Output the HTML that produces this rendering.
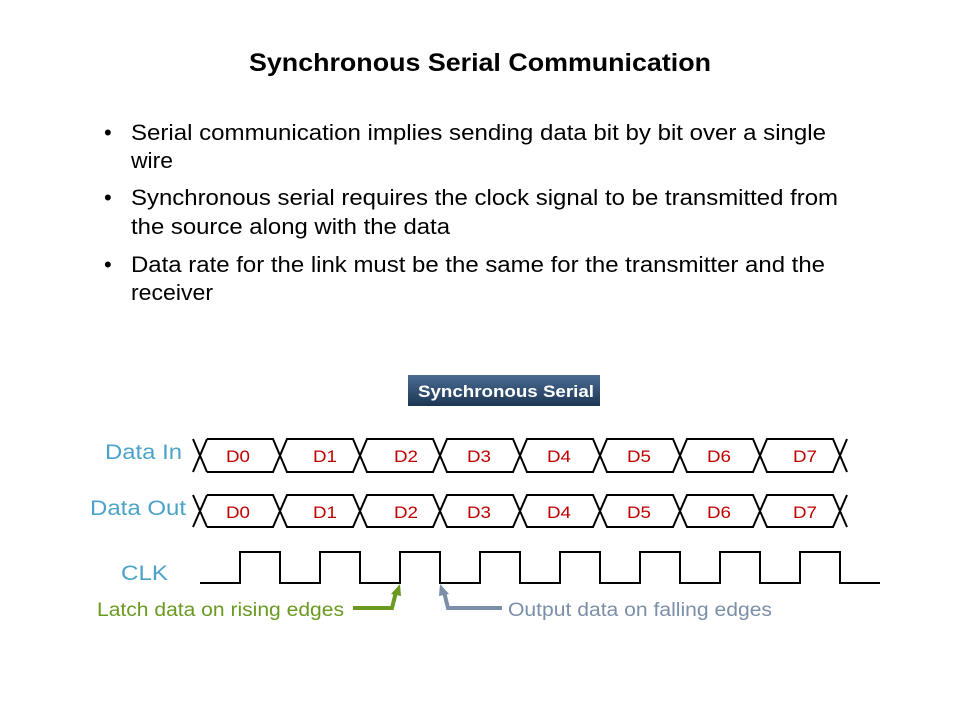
<!DOCTYPE html>
<html><head><meta charset="utf-8"><style>
html,body{margin:0;padding:0;background:#fff;}
svg{display:block;}
text{font-family:"Liberation Sans",Arial,sans-serif;}
</style></head><body>
<svg width="960" height="720" viewBox="0 0 960 720" xmlns="http://www.w3.org/2000/svg">
<defs>
<linearGradient id="g" x1="0" y1="0" x2="0" y2="1">
<stop offset="0" stop-color="#4a6d92"/><stop offset="1" stop-color="#1d3553"/>
</linearGradient>
</defs>
<text x="249" y="71" font-size="25" font-weight="bold" fill="#000" textLength="462" lengthAdjust="spacingAndGlyphs">Synchronous Serial Communication</text>
<g font-size="22" fill="#000">
<text x="104" y="140">•</text><text x="131" y="140" textLength="695" lengthAdjust="spacingAndGlyphs">Serial communication implies sending data bit by bit over a single</text>
<text x="131" y="168" textLength="42" lengthAdjust="spacingAndGlyphs">wire</text>
<text x="104" y="205">•</text><text x="131" y="205" textLength="707" lengthAdjust="spacingAndGlyphs">Synchronous serial requires the clock signal to be transmitted from</text>
<text x="131" y="234" textLength="319" lengthAdjust="spacingAndGlyphs">the source along with the data</text>
<text x="104" y="272">•</text><text x="131" y="272" textLength="694" lengthAdjust="spacingAndGlyphs">Data rate for the link must be the same for the transmitter and the</text>
<text x="131" y="300" textLength="82" lengthAdjust="spacingAndGlyphs">receiver</text>
</g>
<rect x="408" y="375" width="192" height="31" fill="url(#g)"/>
<text x="418" y="397" font-size="17" font-weight="bold" fill="#fff" textLength="176" lengthAdjust="spacingAndGlyphs">Synchronous Serial</text>
<g font-size="21" fill="#4ba3c9">
<text x="105" y="459" textLength="77" lengthAdjust="spacingAndGlyphs">Data In</text>
<text x="90" y="515" textLength="96" lengthAdjust="spacingAndGlyphs">Data Out</text>
<text x="121" y="580" textLength="47" lengthAdjust="spacingAndGlyphs">CLK</text>
</g>
<g fill="none" stroke="#000" stroke-width="2">
<path d="M193,439 L207,472 M193,472 L207,439 M207,439 L273,439 L287,472 L353,472 L367,439 L433,439 L447,472 L513,472 L527,439 L593,439 L607,472 L673,472 L687,439 L753,439 L767,472 L833,472 L847,439 M207,472 L273,472 L287,439 L353,439 L367,472 L433,472 L447,439 L513,439 L527,472 L593,472 L607,439 L673,439 L687,472 L753,472 L767,439 L833,439 L847,472"/>
<path d="M193,495 L207,527 M193,527 L207,495 M207,495 L273,495 L287,527 L353,527 L367,495 L433,495 L447,527 L513,527 L527,495 L593,495 L607,527 L673,527 L687,495 L753,495 L767,527 L833,527 L847,495 M207,527 L273,527 L287,495 L353,495 L367,527 L433,527 L447,495 L513,495 L527,527 L593,527 L607,495 L673,495 L687,527 L753,527 L767,495 L833,495 L847,527"/>
<path d="M200,583 H240 V552 H280 V583 H320 V552 H360 V583 H400 V552 H440 V583 H480 V552 H520 V583 H560 V552 H600 V583 H640 V552 H680 V583 H720 V552 H760 V583 H800 V552 H840 V583 H880"/>
</g>
<g font-size="17" fill="#c00000">
<text x="226" y="462" textLength="24" lengthAdjust="spacingAndGlyphs">D0</text><text x="313" y="462" textLength="24" lengthAdjust="spacingAndGlyphs">D1</text><text x="394" y="462" textLength="24" lengthAdjust="spacingAndGlyphs">D2</text><text x="467" y="462" textLength="24" lengthAdjust="spacingAndGlyphs">D3</text><text x="547" y="462" textLength="24" lengthAdjust="spacingAndGlyphs">D4</text><text x="627" y="462" textLength="24" lengthAdjust="spacingAndGlyphs">D5</text><text x="707" y="462" textLength="24" lengthAdjust="spacingAndGlyphs">D6</text><text x="793" y="462" textLength="24" lengthAdjust="spacingAndGlyphs">D7</text>
<text x="226" y="518" textLength="24" lengthAdjust="spacingAndGlyphs">D0</text><text x="313" y="518" textLength="24" lengthAdjust="spacingAndGlyphs">D1</text><text x="394" y="518" textLength="24" lengthAdjust="spacingAndGlyphs">D2</text><text x="467" y="518" textLength="24" lengthAdjust="spacingAndGlyphs">D3</text><text x="547" y="518" textLength="24" lengthAdjust="spacingAndGlyphs">D4</text><text x="627" y="518" textLength="24" lengthAdjust="spacingAndGlyphs">D5</text><text x="707" y="518" textLength="24" lengthAdjust="spacingAndGlyphs">D6</text><text x="793" y="518" textLength="24" lengthAdjust="spacingAndGlyphs">D7</text>
</g>
<path d="M353,608 H392 L396,592" fill="none" stroke="#6a9a1f" stroke-width="4"/>
<polygon points="400,584 391,594 401,596" fill="#6a9a1f"/>
<path d="M502,608 H448 L444,592" fill="none" stroke="#7b8fa8" stroke-width="4"/>
<polygon points="440,584 439,596 449,594" fill="#7b8fa8"/>
<text x="97" y="616" font-size="19" fill="#6a9a1f" textLength="247" lengthAdjust="spacingAndGlyphs">Latch data on rising edges</text>
<text x="508" y="616" font-size="19" fill="#7b8fa8" textLength="264" lengthAdjust="spacingAndGlyphs">Output data on falling edges</text>
</svg>
</body></html>
